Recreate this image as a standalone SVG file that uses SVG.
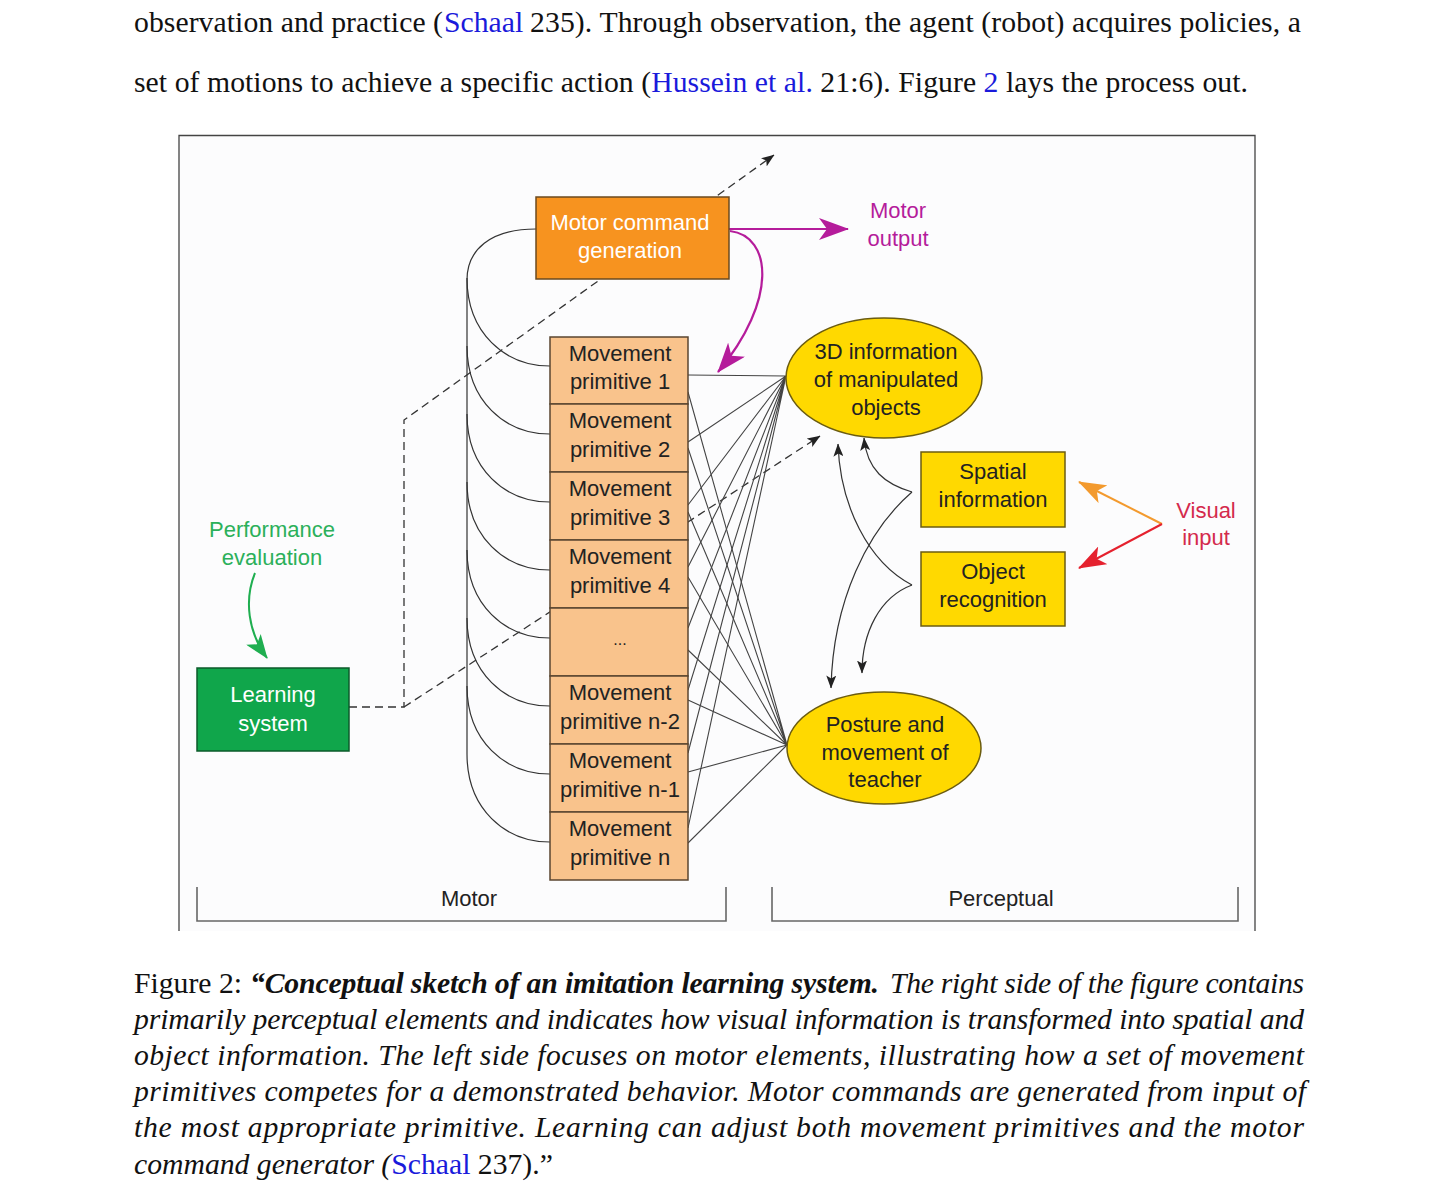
<svg xmlns="http://www.w3.org/2000/svg" width="1435" height="1197" viewBox="0 0 1435 1197">
<defs>
<style>
.pg{font-family:"Liberation Serif","Times New Roman",serif;font-size:29.7px;fill:#111}
.it{font-style:italic}
.bi{font-style:italic;font-weight:bold}
.lk{fill:#1a1adb}
.lbl{font-family:"Liberation Sans",Arial,sans-serif;font-size:22px;text-anchor:middle;fill:#222}
.wt{fill:#ffffff}
.prim{fill:#f9c38c;stroke:#5a4530;stroke-width:1.5}
.yel{fill:#ffd900;stroke:#6b5c10;stroke-width:1.5}
.thin{fill:none;stroke:#333;stroke-width:1.2}
.fan{fill:none;stroke:#444;stroke-width:1.1}
.dash{fill:none;stroke:#333;stroke-width:1.3;stroke-dasharray:8 5}
.brk{fill:none;stroke:#666;stroke-width:1.6}
</style>
<marker id="mMag" viewBox="0 0 30 22" refX="29" refY="11" markerWidth="30" markerHeight="22" orient="auto" markerUnits="userSpaceOnUse"><path d="M0,0 L30,11 L0,22 L8,11 z" fill="#b51c9b"/></marker>
<marker id="mGrn" viewBox="0 0 24 18" refX="23" refY="9" markerWidth="24" markerHeight="18" orient="auto" markerUnits="userSpaceOnUse"><path d="M0,0 L24,9 L0,18 L6,9 z" fill="#1fae50"/></marker>
<marker id="mOrg" viewBox="0 0 28 20" refX="27" refY="10" markerWidth="28" markerHeight="20" orient="auto" markerUnits="userSpaceOnUse"><path d="M0,0 L28,10 L0,20 L7,10 z" fill="#f39a2e"/></marker>
<marker id="mRed" viewBox="0 0 28 20" refX="27" refY="10" markerWidth="28" markerHeight="20" orient="auto" markerUnits="userSpaceOnUse"><path d="M0,0 L28,10 L0,20 L7,10 z" fill="#e5212e"/></marker>
<marker id="mBlk" viewBox="0 0 13 10" refX="12.5" refY="5" markerWidth="13" markerHeight="10" orient="auto" markerUnits="userSpaceOnUse"><path d="M0,0 L13,5 L0,10 L3,5 z" fill="#222"/></marker>
</defs>
<rect width="1435" height="1197" fill="#ffffff"/>

<!-- page text above -->
<g id="body-text">
<text class="pg" x="134" y="32" textLength="309" lengthAdjust="spacing">observation and practice (</text>
<text class="pg lk" x="444" y="32">Schaal</text>
<text class="pg" x="530" y="32" textLength="771" lengthAdjust="spacing">235). Through observation, the agent (robot) acquires policies, a</text>
<text class="pg" x="134" y="92" textLength="1114" lengthAdjust="spacing">set of motions to achieve a specific action (<tspan class="lk">Hussein et al.</tspan> 21:6). Figure <tspan class="lk">2</tspan> lays the process out.</text>
</g>

<!-- figure frame -->
<g id="frame">
<rect x="179" y="135" width="1076" height="796" fill="#fcfcfd" stroke="none"/>
<path d="M179,931 L179,135.5 L1255,135.5 L1255,931" fill="none" stroke="#444" stroke-width="1.3"/>
</g>

<g id="connectors">
<!-- dashed learning lines -->
<path class="dash" d="M349,707 L404,707 L404,420 L774,155" marker-end="url(#mBlk)"/>
<path class="dash" d="M404,707 L820,436" marker-end="url(#mBlk)"/>
<!-- motor arcs -->
<path class="thin" d="M536,229 C490,229 467,250 467,280 L467,754"/>
<path class="thin" d="M467,278 C467,333 505,366 550,366"/>
<path class="thin" d="M467,346 C467,401 505,434 550,434"/>
<path class="thin" d="M467,414 C467,469 505,502 550,502"/>
<path class="thin" d="M467,482 C467,537 505,570 550,570"/>
<path class="thin" d="M467,550 C467,605 505,638 550,638"/>
<path class="thin" d="M467,618 C467,673 505,706 550,706"/>
<path class="thin" d="M467,686 C467,741 505,774 550,774"/>
<path class="thin" d="M467,754 C467,809 505,842 550,842"/>
<!-- fan lines to 3D -->
<path class="fan" d="M688,375 L786,376 M688,442 L786,376 M688,505 L786,376 M688,567 L786,376 M688,628 L786,376 M688,690 L786,376 M688,753 L786,376 M688,828 L786,376"/>
<!-- fan lines to posture -->
<path class="fan" d="M688,392 L787,745 M688,448 L787,745 M688,512 L787,745 M688,577 L787,745 M688,650 L787,745 M688,700 L787,745 M688,843 L787,745"/>
<path class="fan" d="M688,772 L787,745" stroke-width="1.6"/>
<!-- magenta -->
<path d="M729,229 L848,229" fill="none" stroke="#b51c9b" stroke-width="2.2" marker-end="url(#mMag)"/>
<path d="M730,231 C772,236 778,300 718,372" fill="none" stroke="#b51c9b" stroke-width="2.2" marker-end="url(#mMag)"/>
<!-- green -->
<path d="M255,573 C244,600 248,632 267,658" fill="none" stroke="#1fae50" stroke-width="2" marker-end="url(#mGrn)"/>
<!-- visual input -->
<path d="M1162,524 L1079,482" fill="none" stroke="#f39a2e" stroke-width="2" marker-end="url(#mOrg)"/>
<path d="M1162,524 L1079,568" fill="none" stroke="#e5212e" stroke-width="2" marker-end="url(#mRed)"/>
<!-- perceptual curves -->
<path class="thin" d="M912,492 C885,484 867,470 864,438" marker-end="url(#mBlk)"/>
<path class="thin" d="M912,492 C868,530 833,600 831,688" marker-end="url(#mBlk)"/>
<path class="thin" d="M912,585 C868,562 840,505 838,444" marker-end="url(#mBlk)"/>
<path class="thin" d="M912,585 C880,597 862,632 862,673" marker-end="url(#mBlk)"/>
</g>

<g id="motor-command">
<rect x="536" y="197" width="193" height="82" fill="#f7931f" stroke="#6b4a1f" stroke-width="1.5"/>
<text class="lbl wt" x="630" y="230">Motor command</text>
<text class="lbl wt" x="630" y="258">generation</text>
</g>
<g id="motor-output"><text class="lbl" x="898" y="218" style="fill:#b51c9b">Motor</text><text class="lbl" x="898" y="246" style="fill:#b51c9b">output</text></g>

<g id="mp1"><rect class="prim" x="550" y="337" width="138" height="67"/><text class="lbl" x="620" y="361">Movement</text><text class="lbl" x="620" y="389">primitive 1</text></g>
<g id="mp2"><rect class="prim" x="550" y="404" width="138" height="68"/><text class="lbl" x="620" y="428">Movement</text><text class="lbl" x="620" y="457">primitive 2</text></g>
<g id="mp3"><rect class="prim" x="550" y="472" width="138" height="68"/><text class="lbl" x="620" y="496">Movement</text><text class="lbl" x="620" y="525">primitive 3</text></g>
<g id="mp4"><rect class="prim" x="550" y="540" width="138" height="68"/><text class="lbl" x="620" y="564">Movement</text><text class="lbl" x="620" y="593">primitive 4</text></g>
<g id="mp-dots"><rect class="prim" x="550" y="608" width="138" height="68"/><text class="lbl" x="620" y="645" style="font-size:16px">...</text></g>
<g id="mp-n2"><rect class="prim" x="550" y="676" width="138" height="68"/><text class="lbl" x="620" y="700">Movement</text><text class="lbl" x="620" y="729">primitive n-2</text></g>
<g id="mp-n1"><rect class="prim" x="550" y="744" width="138" height="68"/><text class="lbl" x="620" y="768">Movement</text><text class="lbl" x="620" y="797">primitive n-1</text></g>
<g id="mp-n"><rect class="prim" x="550" y="812" width="138" height="68"/><text class="lbl" x="620" y="836">Movement</text><text class="lbl" x="620" y="865">primitive n</text></g>

<g id="info-3d"><ellipse class="yel" cx="884" cy="378" rx="98" ry="60"/><text class="lbl" x="886" y="359">3D information</text><text class="lbl" x="886" y="387">of manipulated</text><text class="lbl" x="886" y="415">objects</text></g>
<g id="posture"><ellipse class="yel" cx="884" cy="748" rx="97" ry="56"/><text class="lbl" x="885" y="732">Posture and</text><text class="lbl" x="885" y="760">movement of</text><text class="lbl" x="885" y="787">teacher</text></g>
<g id="spatial"><rect class="yel" x="921" y="452" width="144" height="75"/><text class="lbl" x="993" y="479">Spatial</text><text class="lbl" x="993" y="507">information</text></g>
<g id="object"><rect class="yel" x="921" y="552" width="144" height="74"/><text class="lbl" x="993" y="579">Object</text><text class="lbl" x="993" y="607">recognition</text></g>
<g id="visual-input"><text class="lbl" x="1206" y="518" style="fill:#d42a4c">Visual</text><text class="lbl" x="1206" y="545" style="fill:#d42a4c">input</text></g>

<g id="performance"><text class="lbl" x="272" y="537" style="fill:#2bb05a">Performance</text><text class="lbl" x="272" y="565" style="fill:#2bb05a">evaluation</text></g>
<g id="learning"><rect x="197" y="668" width="152" height="83" fill="#10a64b" stroke="#0b5a2a" stroke-width="1.5"/><text class="lbl wt" x="273" y="702">Learning</text><text class="lbl wt" x="273" y="731">system</text></g>

<g id="motor-bracket"><path class="brk" d="M197,887 L197,921 L726,921 L726,887"/><text class="lbl" x="469" y="906">Motor</text></g>
<g id="perceptual-bracket"><path class="brk" d="M772,887 L772,921 L1238,921 L1238,887"/><text class="lbl" x="1001" y="906">Perceptual</text></g>

<!-- caption -->
<g id="caption">
<text class="pg" x="134" y="993">Figure 2:</text>
<text class="pg bi" x="250" y="993" textLength="629" lengthAdjust="spacing">“Conceptual sketch of an imitation learning system.</text>
<text class="pg it" x="890" y="993" textLength="414" lengthAdjust="spacing">The right side of the figure contains</text>
<text class="pg it" x="134" y="1029" textLength="1170" lengthAdjust="spacing">primarily perceptual elements and indicates how visual information is transformed into spatial and</text>
<text class="pg it" x="134" y="1065" textLength="1170" lengthAdjust="spacing">object information.  The left side focuses on motor elements, illustrating how a set of movement</text>
<text class="pg it" x="134" y="1101" textLength="1172" lengthAdjust="spacing">primitives competes for a demonstrated behavior.  Motor commands are generated from input of</text>
<text class="pg it" x="134" y="1137" textLength="1170" lengthAdjust="spacing">the most appropriate primitive.  Learning can adjust both movement primitives and the motor</text>
<text class="pg it" x="134" y="1174">command generator (<tspan class="lk" style="font-style:normal">Schaal</tspan><tspan style="font-style:normal"> 237).”</tspan></text>
</g>
</svg>
